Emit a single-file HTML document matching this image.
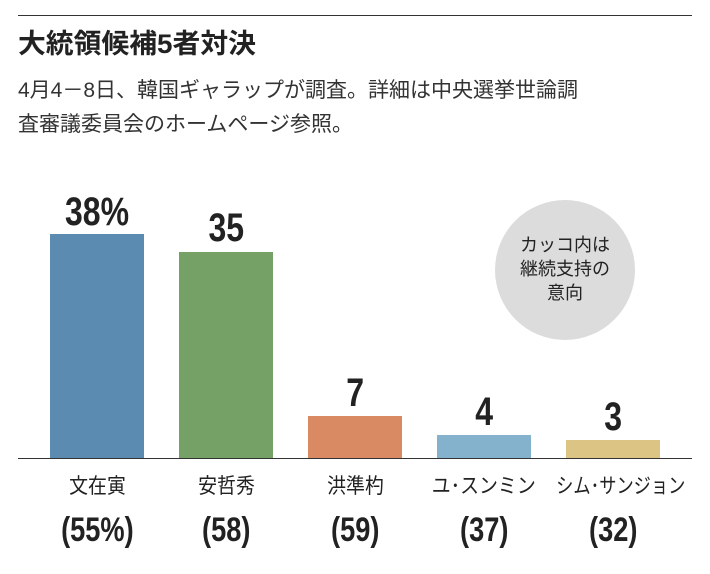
<!DOCTYPE html>
<html><head><meta charset="utf-8"><style>
body{margin:0;width:710px;height:574px;background:#fff;overflow:hidden;position:relative;font-family:"Liberation Sans","Noto Sans CJK JP",sans-serif;color:#222}
.a{position:absolute;white-space:nowrap}
.bar{position:absolute;width:94px}
.v{position:absolute;width:94px;text-align:center;font-weight:bold;font-size:40px;line-height:40px}
.v span{display:inline-block;transform:scaleX(0.8)}
.n{position:absolute;width:160px;text-align:center;font-size:21px;line-height:24px;white-space:nowrap}
.n span{display:inline-block;transform:scaleX(0.9)}
.p{position:absolute;width:130px;text-align:center;font-size:34px;font-weight:bold;line-height:36px}
.p span{display:inline-block;transform:scaleX(0.8)}
</style></head><body>
<div class="a" style="left:18px;top:15px;width:674px;height:1px;background:#333"></div>
<div class="a" style="left:18px;top:27px;font-size:27px;font-weight:bold;line-height:34px;transform:scaleX(1.03);transform-origin:left">大統領候補5者対決</div>
<div class="a" style="left:18px;top:74px;font-size:21px;line-height:34px;color:#333">4月4－8日、韓国ギャラップが調査。詳細は中央選挙世論調<br>査審議委員会のホームページ参照。</div>
<div class="a" style="left:495px;top:200px;width:140px;height:140px;border-radius:50%;background:#dcdcdc;text-align:center;font-size:18px;line-height:24px;padding-top:33px;box-sizing:border-box">カッコ内は<br>継続支持の<br>意向</div>
<div class="bar" style="left:50px;top:234px;height:224px;background:#5b8bb0"></div>
<div class="bar" style="left:179px;top:252px;height:206px;background:#76a166"></div>
<div class="bar" style="left:308px;top:416px;height:42px;background:#d98a63"></div>
<div class="bar" style="left:437px;top:435px;height:23px;background:#84b2cc"></div>
<div class="bar" style="left:566px;top:440px;height:18px;background:#dcc584"></div>
<div class="a" style="left:18px;top:458px;width:674px;height:1px;background:#333"></div>
<div class="v" style="left:50px;top:192px"><span>38%</span></div>
<div class="v" style="left:179px;top:208px"><span>35</span></div>
<div class="v" style="left:308px;top:373px"><span>7</span></div>
<div class="v" style="left:437px;top:392px"><span>4</span></div>
<div class="v" style="left:566px;top:397px"><span>3</span></div>
<div class="n" style="left:17px;top:475px"><span>文在寅</span></div>
<div class="n" style="left:146px;top:475px"><span>安哲秀</span></div>
<div class="n" style="left:275px;top:475px"><span>洪準杓</span></div>
<div class="n" style="left:404px;top:475px"><span>ユ･スンミン</span></div>
<div class="n" style="left:541px;top:475px"><span style="transform:scaleX(0.82)">シム･サンジョン</span></div>
<div class="p" style="left:32px;top:512px"><span>(55%)</span></div>
<div class="p" style="left:161px;top:512px"><span>(58)</span></div>
<div class="p" style="left:290px;top:512px"><span>(59)</span></div>
<div class="p" style="left:419px;top:512px"><span>(37)</span></div>
<div class="p" style="left:548px;top:512px"><span>(32)</span></div>
</body></html>
